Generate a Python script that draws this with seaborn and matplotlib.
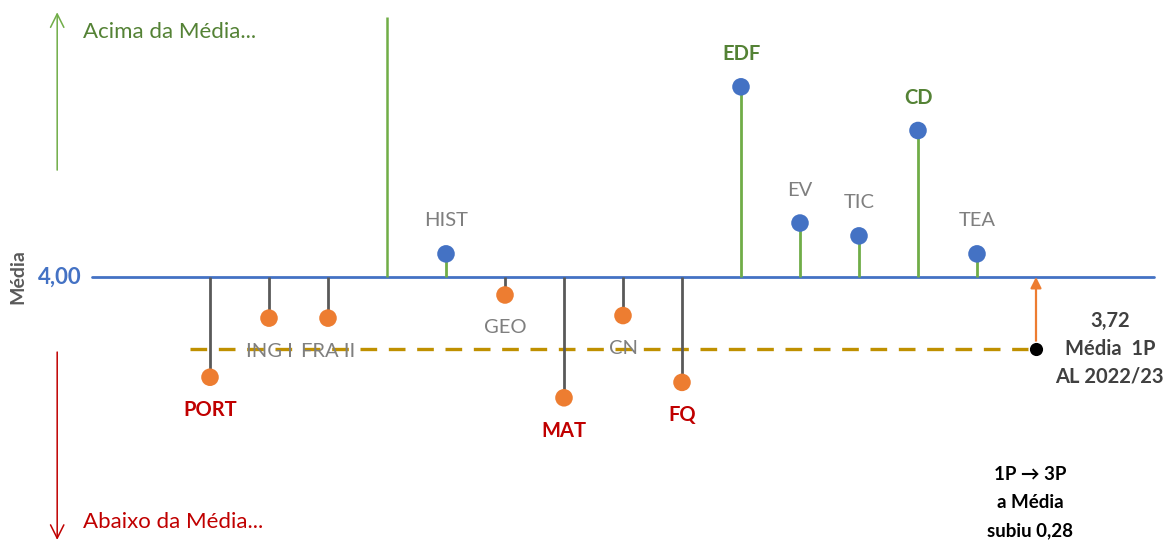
import numpy as np
import pandas as pd
import matplotlib
import seaborn as sns
import matplotlib.pyplot as plt

matplotlib.use('Agg')

# disciplinas e médias do 3º período (linha de referência = 4,00)
disciplinas = ['PORT', 'ING I', 'FRA II', '', 'HIST', 'GEO', 'MAT', 'CN', 'FQ',
               'EDF', 'EV', 'TIC', 'CD', 'TEA']
medias = [3.61, 3.84, 3.84, np.nan, 4.09, 3.93, 3.53, 3.85, 3.59,
          4.74, 4.21, 4.16, 4.57, 4.09]
destaque_baixo = ['PORT', 'MAT', 'FQ']
destaque_alto = ['EDF', 'CD']

media_ref = 4.00
media_1p = 3.72
separador_topo = 5.01  # linha verde sem marcador

sns.set_style('white')
plt.rcParams['font.family'] = ['Lato', 'DejaVu Sans']

fig = plt.figure(figsize=(11.73, 5.43), dpi=100)
ax = fig.add_axes([0, 0, 1, 1])

pos = np.arange(len(disciplinas))
df = pd.DataFrame({'x': pos, 'media': medias, 'disc': disciplinas})
df['lado'] = np.where(df['media'] >= media_ref, 'acima', 'abaixo')
dados = df.dropna()

verde = '#70AD47'
azul = '#4472C4'
laranja = '#ED7D31'
cinza = '#595959'

# linha da média
ax.plot([-2, 16], [media_ref, media_ref], color=azul, lw=2, zorder=1)

# hastes
for _, r in dados.iterrows():
    cor = verde if r['media'] >= media_ref else cinza
    ax.vlines(r['x'], media_ref, r['media'], color=cor, lw=2, zorder=2)
ax.vlines(3, media_ref, separador_topo, color=verde, lw=1.8, zorder=2)

sns.scatterplot(data=dados, x='x', y='media', hue='lado',
                palette={'acima': azul, 'abaixo': laranja},
                s=160, edgecolor='none', legend=False, zorder=3, ax=ax)

# rótulos
off = 0.128
for _, r in dados.iterrows():
    d = r['disc']
    if d in destaque_baixo:
        cor, peso = '#C00000', 'bold'
    elif d in destaque_alto:
        cor, peso = '#548235', 'bold'
    else:
        cor, peso = '#7F7F7F', 'normal'
    y = r['media'] + off if r['media'] >= media_ref else r['media'] - off
    ax.text(r['x'], y, d, color=cor, fontweight=peso, fontsize=14.5,
            ha='center', va='center', zorder=4)

# média do 1º período
ax.plot([-0.34, 14], [media_1p, media_1p], color='#BF9000', lw=2.4,
        dashes=(5, 3.5), zorder=1)
ax.scatter([14], [media_1p], s=110, color='black', edgecolor='white',
           linewidth=1, zorder=5)
ax.annotate('', xy=(14, media_ref), xytext=(14, media_1p),
            arrowprops=dict(arrowstyle='-|>', color=laranja, lw=1.6,
                            mutation_scale=16, shrinkA=4, shrinkB=0))

for y, t in zip([3.829, 3.72, 3.611], ['3,72', 'Média  1P', 'AL 2022/23']):
    ax.text(15.25, y, t, color='#404040', fontweight='bold', fontsize=14.5,
            ha='center', va='center')
for y, t in zip([3.23, 3.121, 3.012], ['1P → 3P', 'a Média', 'subiu 0,28']):
    ax.text(13.9, y, t, color='black', fontweight='bold', fontsize=13.5,
            ha='center', va='center')

# setas laterais
ax.annotate('', xy=(-2.59, 5.03), xytext=(-2.59, 4.416),
            arrowprops=dict(arrowstyle='->', color=verde, lw=1.1,
                            mutation_scale=24, shrinkA=0, shrinkB=0))
ax.annotate('', xy=(-2.59, 2.977), xytext=(-2.59, 3.708),
            arrowprops=dict(arrowstyle='->', color='#C00000', lw=1.1,
                            mutation_scale=24, shrinkA=0, shrinkB=0))
ax.text(-2.15, 4.953, 'Acima da Média...', color='#548235', fontsize=16,
        ha='left', va='center')
ax.text(-2.15, 3.047, 'Abaixo da Média...', color='#C00000', fontsize=16,
        ha='left', va='center')

ax.text(-2.54, media_ref, '4,00', color=azul, fontweight='bold', fontsize=16,
        ha='center', va='center')
ax.text(-3.25, media_ref, 'Média', color='#595959', fontweight='bold',
        fontsize=14, rotation=90, ha='center', va='center')

ax.set_xlim(-210 / 59, (1173 - 210) / 59)
ax.set_ylim(4 - 266 / 257, 4 + 277 / 257)
ax.axis('off')

fig.savefig('out.png', dpi=100)
